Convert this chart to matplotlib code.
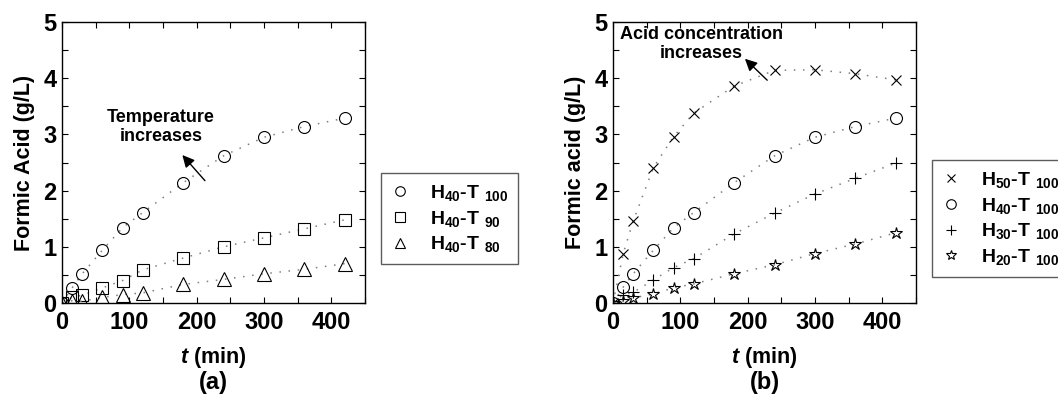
import matplotlib
matplotlib.use("Agg")
import matplotlib.pyplot as plt
from matplotlib.ticker import MultipleLocator

plt.rcParams['font.family'] = ['Liberation Sans', 'DejaVu Sans']
plt.rcParams['font.weight'] = 'bold'
plt.rcParams['axes.labelweight'] = 'bold'
plt.rcParams['mathtext.fontset'] = 'custom'
plt.rcParams['mathtext.default'] = 'regular'
plt.rcParams['mathtext.rm'] = 'Liberation Sans:bold'
plt.rcParams['mathtext.it'] = 'Liberation Sans:italic:bold'
plt.rcParams['mathtext.bf'] = 'Liberation Sans:bold'

# sampling times (min)
t = [0, 15, 30, 60, 90, 120, 180, 240, 300, 360, 420]

# (a) temperature series, 40% acid
a_t100 = [0, 0.27, 0.52, 0.94, 1.34, 1.61, 2.14, 2.62, 2.95, 3.14, 3.29]
a_t90 = [0, 0.10, 0.14, 0.27, 0.40, 0.59, 0.80, 1.00, 1.16, 1.32, 1.48]
a_t80 = [0, 0.04, 0.03, 0.10, 0.15, 0.18, 0.33, 0.42, 0.52, 0.60, 0.70]
a_labels = [r'H$_{40}$-T$\ _{100}$', r'H$_{40}$-T$\ _{90}$', r'H$_{40}$-T$\ _{80}$']

# (b) acid concentration series, 100 C
b_h50 = [0, 0.87, 1.46, 2.41, 2.96, 3.38, 3.86, 4.14, 4.15, 4.08, 3.97]
b_h40 = [0, 0.28, 0.52, 0.94, 1.34, 1.61, 2.14, 2.62, 2.95, 3.14, 3.29]
b_h30 = [0, 0.15, 0.19, 0.41, 0.63, 0.79, 1.23, 1.60, 1.94, 2.22, 2.49]
b_h20 = [0, 0.04, 0.09, 0.16, 0.27, 0.34, 0.52, 0.68, 0.88, 1.05, 1.25]
b_labels = [r'H$_{50}$-T$\ _{100}$', r'H$_{40}$-T$\ _{100}$',
            r'H$_{30}$-T$\ _{100}$', r'H$_{20}$-T$\ _{100}$']

W, H = 1058, 396
fig = plt.figure(figsize=(W / 100, H / 100), dpi=100)
axa = fig.add_axes([62 / W, 93 / H, 303 / W, 281 / H])
axb = fig.add_axes([613 / W, 93 / H, 303 / W, 281 / H])

dot = dict(ls=(0, (1, 5)), color='#7f7f7f', lw=1.1)


def series(ax, y, marker, ms, label):
    ax.plot(t, y, **dot)
    ax.plot(t, y, ls='none', marker=marker, ms=ms, mfc='none', mec='k',
            mew=0.8, label=label)


series(axa, a_t100, 'o', 8.6, a_labels[0])
series(axa, a_t90, 's', 8.2, a_labels[1])
series(axa, a_t80, '^', 9.5, a_labels[2])

series(axb, b_h50, 'x', 7.5, b_labels[0])
series(axb, b_h40, 'o', 8.6, b_labels[1])
series(axb, b_h30, '+', 9, b_labels[2])
series(axb, b_h20, '*', 9, b_labels[3])

for ax in (axa, axb):
    ax.set_xlim(0, 450)
    ax.set_ylim(0, 5)
    ax.xaxis.set_major_locator(MultipleLocator(100))
    ax.xaxis.set_minor_locator(MultipleLocator(50))
    ax.yaxis.set_major_locator(MultipleLocator(1))
    ax.yaxis.set_minor_locator(MultipleLocator(0.5))
    ax.tick_params(which='both', direction='in', top=True, right=True,
                   length=4, width=0.8)
    ax.tick_params(axis='both', labelsize=17)
    ax.tick_params(axis='x', pad=6)
    ax.tick_params(axis='y', pad=4)
    for s in ax.spines.values():
        s.set_linewidth(1.0)
    ax.set_xlabel(r'$\mathit{t}$ (min)', fontsize=15.5)
    ax.xaxis.set_label_coords(0.5, -0.15)

axa.set_ylabel('Formic Acid (g/L)', fontsize=15.5)
axb.set_ylabel('Formic acid (g/L)', fontsize=15.5)
axa.yaxis.set_label_coords(-0.09, 0.5)
axb.yaxis.set_label_coords(-0.09, 0.5)

fig.text((62 + 303 / 2) / W, 1 - 382 / H, '(a)', ha='center', va='center', fontsize=17)
fig.text((613 + 303 / 2) / W, 1 - 382 / H, '(b)', ha='center', va='center', fontsize=17)

arrow = dict(arrowstyle='-|>', color='k', lw=1.0, mutation_scale=18)
axa.annotate('', xy=(176, 2.67), xytext=(215, 2.14), arrowprops=arrow)
axa.text(147, 3.13, 'Temperature\nincreases', ha='center', va='center',
         fontsize=13, linespacing=1.1)
axb.annotate('', xy=(193, 4.38), xytext=(232, 3.93), arrowprops=arrow)
axb.text(131, 4.61, 'Acid concentration\nincreases', ha='center', va='center',
         fontsize=13, linespacing=1.1)

leg_kw = dict(loc='upper left', bbox_transform=fig.transFigure, borderaxespad=0,
              fancybox=False, edgecolor='#333333', fontsize=14, markerscale=0.8,
              handlelength=1.0, handletextpad=1.0, labelspacing=0.3,
              borderpad=0.5)
la = axa.legend(bbox_to_anchor=(381 / W, 1 - 173 / H), **leg_kw)
lb = axb.legend(bbox_to_anchor=(932 / W, 1 - 160 / H), **leg_kw)
for lg in (la, lb):
    lg.get_frame().set_linewidth(1.0)

fig.savefig('out.png', dpi=100)
